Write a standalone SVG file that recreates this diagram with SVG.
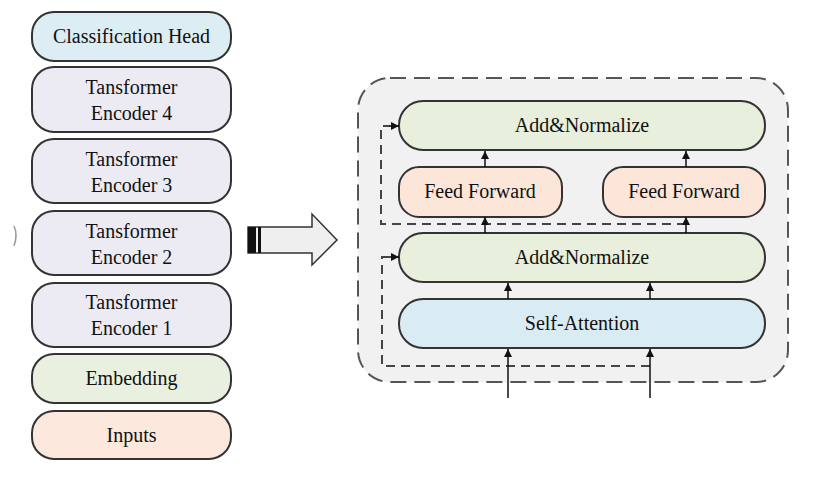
<svg xmlns="http://www.w3.org/2000/svg" width="838" height="478" viewBox="0 0 838 478">
<defs>
<marker id="ah" viewBox="0 0 10 10" refX="10" refY="5" markerWidth="8" markerHeight="8" markerUnits="userSpaceOnUse" orient="auto">
<path d="M0,0 L10,5 L0,10 z" fill="#111"/>
</marker>
</defs>
<style>
.box{stroke:#333;stroke-width:2}
.ch{fill:#dcedf3}
.te{fill:#ecebf4}
.em{fill:#e9f0df}
.in{fill:#fce8dc}
.an{fill:#e8efdc}
.ff{fill:#fce6da}
.sa{fill:#d9ebf3}
.ar{stroke:#111;stroke-width:1.5;fill:none;marker-end:url(#ah)}
.dash{stroke:#444;stroke-width:2;fill:none;stroke-dasharray:9,6}
</style>
<rect width="838" height="478" fill="#ffffff"/>
<path d="M14,226 Q18,235 14,246" stroke="#999" stroke-width="1.5" fill="none"/>
<g font-family="Liberation Serif, Times New Roman, serif" font-size="20" fill="#111" text-anchor="middle">
<g id="classification-head"><rect class="box ch" x="32" y="12" width="199" height="49" rx="22"/><text x="131.5" y="43">Classification Head</text></g>
<g id="encoder4"><rect class="box te" x="32" y="67" width="199" height="65" rx="22"/><text x="131.5" y="94">Tansformer</text><text x="131.5" y="120">Encoder 4</text></g>
<g id="encoder3"><rect class="box te" x="32" y="139" width="199" height="64" rx="22"/><text x="131.5" y="166">Tansformer</text><text x="131.5" y="192">Encoder 3</text></g>
<g id="encoder2"><rect class="box te" x="32" y="211" width="199" height="64" rx="22"/><text x="131.5" y="238">Tansformer</text><text x="131.5" y="264">Encoder 2</text></g>
<g id="encoder1"><rect class="box te" x="32" y="283" width="199" height="64" rx="22"/><text x="131.5" y="309">Tansformer</text><text x="131.5" y="335">Encoder 1</text></g>
<g id="embedding"><rect class="box em" x="32" y="354" width="199" height="49" rx="22"/><text x="131.5" y="385">Embedding</text></g>
<g id="inputs"><rect class="box in" x="32" y="411" width="199" height="48" rx="22"/><text x="131.5" y="442">Inputs</text></g>
<g id="block-arrow">
<path d="M248,227 L312,227 L312,214 L337,240 L312,265 L312,253 L248,253 Z" fill="#efefef" stroke="#333" stroke-width="1.5"/>
<rect x="248" y="227" width="8" height="26" fill="#111"/>
<rect x="258" y="227" width="3" height="26" fill="#111"/>
</g>
<g id="encoder-detail">
<rect x="358" y="78" width="430" height="304" rx="32" fill="#f1f1f1" stroke="#555" stroke-width="2" stroke-dasharray="16,8"/>
</g>
<g id="add-norm-top"><rect class="box an" x="399" y="101" width="366" height="49" rx="24"/><text x="582" y="132">Add&amp;Normalize</text></g>
<g id="ff-left"><rect class="box ff" x="399" y="167" width="163" height="50" rx="20"/><text x="480" y="198">Feed Forward</text></g>
<g id="ff-right"><rect class="box ff" x="603" y="167" width="162" height="50" rx="20"/><text x="684" y="198">Feed Forward</text></g>
<g id="add-norm-bottom"><rect class="box an" x="399" y="233" width="366" height="49" rx="24"/><text x="582" y="264">Add&amp;Normalize</text></g>
<g id="self-attention"><rect class="box sa" x="399" y="299" width="366" height="49" rx="24"/><text x="582" y="330">Self-Attention</text></g>
</g>
<g id="connectors">
<path class="dash" d="M686,224 L381,224 L381,126 L390,126"/>
<path class="dash" d="M650,366 L382,366 L382,257 L390,257"/>
<line x1="389" y1="126" x2="399" y2="126" class="ar"/>
<line x1="389" y1="257" x2="399" y2="257" class="ar"/>
<line class="ar" x1="485" y1="167" x2="485" y2="151"/>
<line class="ar" x1="686" y1="167" x2="686" y2="151"/>
<line class="ar" x1="485" y1="233" x2="485" y2="217"/>
<line class="ar" x1="686" y1="233" x2="686" y2="217"/>
<line class="ar" x1="508" y1="299" x2="508" y2="283"/>
<line class="ar" x1="650" y1="299" x2="650" y2="283"/>
<line class="ar" x1="508" y1="398" x2="508" y2="349"/>
<line class="ar" x1="650" y1="398" x2="650" y2="349"/>
</g>
</svg>
